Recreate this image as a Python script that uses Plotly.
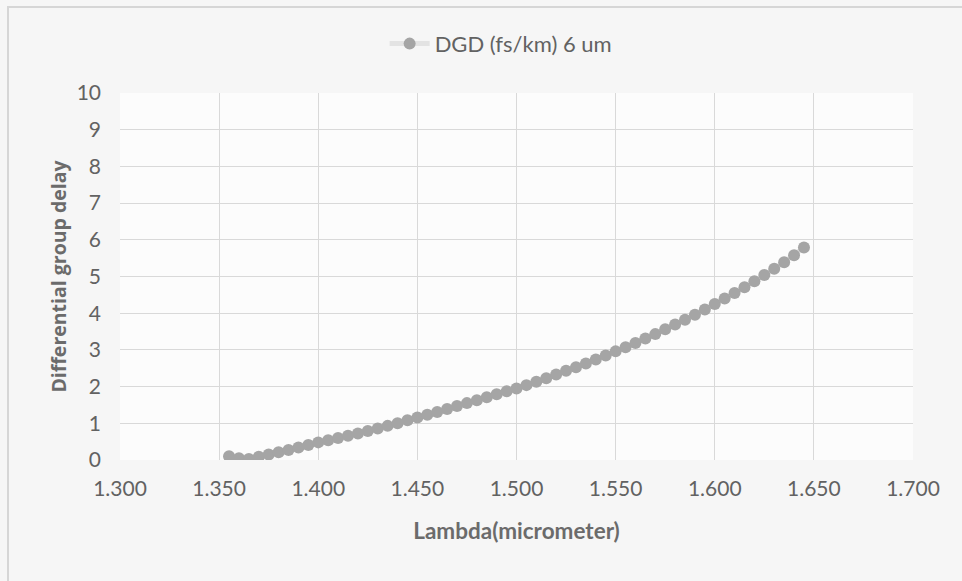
import plotly.graph_objects as go

# Wavelength samples (micrometer) and measured differential group delay (fs/km)
wavelength = [
    1.355, 1.360, 1.365, 1.370, 1.375, 1.380, 1.385, 1.390, 1.395, 1.400,
    1.405, 1.410, 1.415, 1.420, 1.425, 1.430, 1.435, 1.440, 1.445, 1.450,
    1.455, 1.460, 1.465, 1.470, 1.475, 1.480, 1.485, 1.490, 1.495, 1.500,
    1.505, 1.510, 1.515, 1.520, 1.525, 1.530, 1.535, 1.540, 1.545, 1.550,
    1.555, 1.560, 1.565, 1.570, 1.575, 1.580, 1.585, 1.590, 1.595, 1.600,
    1.605, 1.610, 1.615, 1.620, 1.625, 1.630, 1.635, 1.640, 1.645,
]
dgd_6um = [
    0.10, 0.05, 0.03, 0.09, 0.15, 0.21, 0.27, 0.34, 0.41, 0.48,
    0.54, 0.60, 0.66, 0.72, 0.79, 0.86, 0.93, 1.00, 1.08, 1.16,
    1.23, 1.31, 1.39, 1.47, 1.55, 1.63, 1.71, 1.79, 1.87, 1.95,
    2.04, 2.13, 2.23, 2.33, 2.43, 2.53, 2.63, 2.74, 2.85, 2.96,
    3.07, 3.19, 3.31, 3.43, 3.56, 3.69, 3.82, 3.96, 4.10, 4.25,
    4.40, 4.55, 4.71, 4.87, 5.04, 5.21, 5.39, 5.58, 5.79,
]
series_name = "DGD (fs/km) 6 um"
x_ticks = [1.30, 1.35, 1.40, 1.45, 1.50, 1.55, 1.60, 1.65, 1.70]
y_ticks = list(range(0, 11))

TEXT = "#626262"
TITLE = "#6b6b6b"
GRID = "#d9d9d9"

fig = go.Figure()
fig.add_trace(go.Scatter(
    x=wavelength,
    y=dgd_6um,
    name=series_name,
    mode="lines+markers",
    line=dict(color="#e3e3e3", width=5),
    marker=dict(color="#a5a5a5", size=12, line=dict(width=0)),
    showlegend=True,
))

fig.update_layout(
    width=962,
    height=581,
    margin=dict(l=120, r=49, t=93, b=121),
    paper_bgcolor="#f6f6f6",
    plot_bgcolor="#fcfcfc",
    font=dict(family="Lato", size=21, color=TEXT),
    showlegend=True,
    legend=dict(
        orientation="h",
        x=0.48, xanchor="center",
        y=1.134, yanchor="middle",
        bgcolor="rgba(0,0,0,0)",
        font=dict(family="Lato", size=22, color=TEXT),
        itemwidth=40,
    ),
    xaxis=dict(
        range=[1.3, 1.7],
        tickvals=x_ticks,
        tickformat=".3f",
        showgrid=True,
        gridcolor=GRID,
        gridwidth=1.3,
        zeroline=False,
        showline=False,
        ticks="",
        ticklabelstandoff=14,
        title=dict(
            text="Lambda(micrometer)",
            font=dict(family="Lato", size=22.5, color=TITLE, weight="bold"),
            standoff=24,
        ),
    ),
    yaxis=dict(
        range=[0, 10],
        tickvals=y_ticks,
        showgrid=True,
        gridcolor=GRID,
        gridwidth=1.3,
        zeroline=False,
        showline=False,
        ticks="",
        ticklabelstandoff=18,
        title=dict(
            text="Differential group delay",
            font=dict(family="Open Sans", size=19.5, color=TITLE, weight="bold"),
            standoff=4,
        ),
    ),
    shapes=[
        dict(
            type="rect", xref="paper", yref="paper",
            x0=(8 - 120) / 793, x1=1.2,
            y0=-0.5, y1=(460 - 7) / 367,
            line=dict(color="#d6d6d6", width=2),
            fillcolor="rgba(0,0,0,0)",
            layer="below",
        )
    ],
)

fig.write_html("out.html")
